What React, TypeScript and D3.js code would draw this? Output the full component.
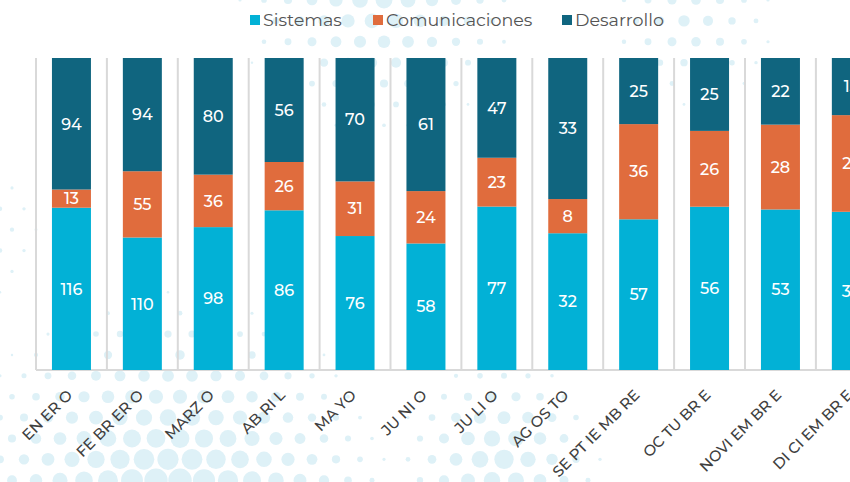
import * as d3 from "d3";

const months = [
  "EN ER O", "FE BR ER O", "MARZ O", "AB RI L", "MA YO", "JU NI O",
  "JU LI O", "AG OS TO", "SE PT IE MB RE", "OC TU BR E", "NOVI  EM BR E", "DI CI EM BR E",
];
const seriesNames = ["Sistemas", "Comunicaciones", "Desarrollo"];
const sistemas = [116, 110, 98, 86, 76, 58, 77, 32, 57, 56, 53, 36];
const comunicaciones = [13, 55, 36, 26, 31, 24, 23, 8, 36, 26, 28, 22];
const desarrollo = [94, 94, 80, 56, 70, 61, 47, 33, 25, 25, 22, 13];
const colors = ["#02b1d6", "#e06c3d", "#10657f"];

const W = 850;
const H = 482;

// halftone decoration in the background
const blobs = [
  { x: 170, y: 520, R: 250, r: 14 },
  { x: 380, y: -10, R: 170, r: 9 },
  { x: 500, y: 460, R: 120, r: 10 },
  { x: 690, y: 20, R: 110, r: 6 },
  { x: -20, y: 230, R: 110, r: 3 },
];

function makeDots() {
  const out: { x: number; y: number; r: number }[] = [];
  const s = 24;
  for (let row = 0; row * s * 0.87 < H + 20; row++) {
    const y = row * s * 0.87;
    for (let col = 0; col * s < W + 20; col++) {
      const x = col * s + (row % 2 ? s / 2 : 0);
      let r = 0;
      for (const b of blobs) {
        const d = Math.hypot(x - b.x, y - b.y);
        r = Math.max(r, b.r * (1 - d / b.R));
      }
      if (r > 1.2) out.push({ x, y, r });
    }
  }
  return out;
}

export default function App() {
  const left = 36;
  const top = 58;
  const bottom = 370;
  const step = 70.9;

  const x = d3
    .scaleBand()
    .domain(months)
    .range([left, left + step * months.length])
    .paddingInner(0.45)
    .paddingOuter(0.225);
  const y = d3.scaleLinear().domain([0, 1]).range([bottom, top]);

  const rows = months.map((m, i) => ({
    month: m,
    Sistemas: sistemas[i],
    Comunicaciones: comunicaciones[i],
    Desarrollo: desarrollo[i],
  }));
  const stacked = d3
    .stack<any>()
    .keys(seriesNames)
    .offset(d3.stackOffsetExpand)(rows);

  const dots = makeDots();
  const font = "Montserrat, 'Noto Sans', sans-serif";

  const legendX = [250, 373, 562];

  return (
    <svg
      width={W}
      height={H}
      style={{ position: "absolute", left: 0, top: 0, background: "#fff" }}
    >
      <g fill="#d6eef6" opacity={0.8}>
        {dots.map((d, i) => (
          <circle key={i} cx={d.x} cy={d.y} r={d.r} />
        ))}
      </g>

      {/* category separators */}
      <g stroke="#d9d9d9" strokeWidth={2}>
        {months.map((m, i) => (
          <line
            key={m}
            x1={left + i * x.step()}
            x2={left + i * x.step()}
            y1={top}
            y2={bottom}
          />
        ))}
        <line x1={left} x2={W} y1={bottom} y2={bottom} />
      </g>

      {stacked.map((s, si) => (
        <g key={s.key} fill={colors[si]}>
          {s.map((d, i) => (
            <rect
              key={i}
              x={x(months[i])}
              width={x.bandwidth()}
              y={y(d[1])}
              height={y(d[0]) - y(d[1])}
            />
          ))}
        </g>
      ))}

      {stacked.map((s, si) => (
        <g
          key={s.key + "l"}
          fill="#fff"
          fontFamily={font}
          fontSize={16}
          fontWeight={500}
          textAnchor="middle"
        >
          {s.map((d, i) => (
            <text
              key={i}
              x={(x(months[i]) as number) + x.bandwidth() / 2}
              y={(y(d[0]) + y(d[1])) / 2}
              dy="0.36em"
            >
              {(d.data as any)[s.key]}
            </text>
          ))}
        </g>
      ))}

      <g fill="#404040" fontFamily={font} fontSize={15} fontWeight={500}>
        {months.map((m) => {
          const cx = (x(m) as number) + x.bandwidth() / 2 + 2;
          const cy = 396;
          return (
            <text
              key={m}
              x={cx}
              y={cy}
              textAnchor="end"
              transform={`rotate(-45 ${cx} ${cy})`}
            >
              {m}
            </text>
          );
        })}
      </g>

      <g fontFamily={font} fontSize={17.5} fill="#555">
        {seriesNames.map((n, i) => (
          <g key={n} transform={`translate(${legendX[i]},0)`}>
            <rect x={0} y={15} width={10} height={10} fill={colors[i]} />
            <text x={13} y={26}>
              {n}
            </text>
          </g>
        ))}
      </g>
    </svg>
  );
}
